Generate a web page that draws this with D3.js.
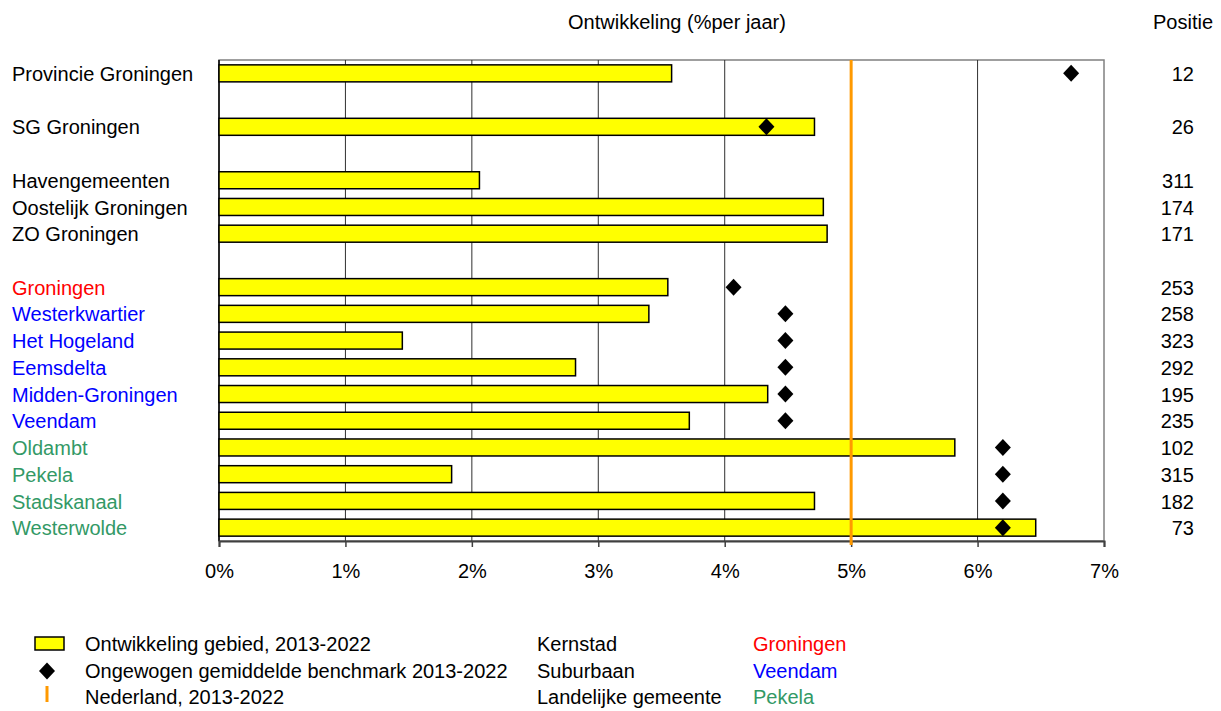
<!DOCTYPE html>
<html><head><meta charset="utf-8">
<script src="https://cdn.jsdelivr.net/npm/d3@7"></script>
<style>body{margin:0;background:#fff}svg{font-family:"Liberation Sans",Arial,sans-serif}</style>
</head><body>
<svg id="c" width="1221" height="711"></svg>
<script>
const categories = ["Provincie Groningen","","SG Groningen","","Havengemeenten","Oostelijk Groningen","ZO Groningen","","Groningen","Westerkwartier","Het Hogeland","Eemsdelta","Midden-Groningen","Veendam","Oldambt","Pekela","Stadskanaal","Westerwolde"];
const labelColors = ["#000","#000","#000","#000","#000","#000","#000","#000","#FF0000","#0000FF","#0000FF","#0000FF","#0000FF","#0000FF","#339966","#339966","#339966","#339966"];
const development = [3.58,null,4.71,null,2.06,4.78,4.81,null,3.55,3.40,1.45,2.82,4.34,3.72,5.82,1.84,4.71,6.46];
const benchmark = [6.74,null,4.33,null,null,null,null,null,4.07,4.48,4.48,4.48,4.48,4.48,6.20,6.20,6.20,6.20];
const positie = ["12","","26","","311","174","171","","253","258","323","292","195","235","102","315","182","73"];
const nederland = 5.0;
const xTicks = [0,1,2,3,4,5,6,7];

const svg = d3.select("#c");
const L=219, R=1104, T=60, B=541;
const x = d3.scaleLinear().domain([0,7]).range([L,R]);
const y = d3.scaleBand().domain(d3.range(categories.length)).range([T,B]);
const fs = 20;

// plot border (gray)
svg.append("rect").attr("x",L).attr("y",T).attr("width",R-L).attr("height",B-T)
  .attr("fill","none").attr("stroke","#808080").attr("stroke-width",1.5);
// gridlines
svg.append("g").selectAll("line").data(xTicks.slice(1,-1)).join("line")
  .attr("x1",d=>x(d)).attr("x2",d=>x(d)).attr("y1",T).attr("y2",B)
  .attr("stroke","#303030").attr("stroke-width",1);
// left axis line
svg.append("line").attr("x1",L).attr("x2",L).attr("y1",T).attr("y2",B).attr("stroke","#000").attr("stroke-width",1.5);
// bottom axis
const xa = svg.append("g").attr("transform",`translate(0,${B})`)
  .call(d3.axisBottom(x).tickValues(xTicks).tickSize(6).tickFormat(d=>d+"%"));
xa.select(".domain").attr("stroke","#404040").attr("stroke-width",2);
xa.selectAll(".tick line").attr("stroke","#404040").attr("stroke-width",1.5);
xa.selectAll("text").attr("font-size",fs).attr("fill","#000").attr("dy","0").attr("y",37)
  .attr("font-family","Liberation Sans, Arial, sans-serif");

// bars
const bh = 17;
svg.append("g").selectAll("rect").data(development.map((v,i)=>({v,i})).filter(d=>d.v!=null)).join("rect")
  .attr("x",x(0)).attr("y",d=>y(d.i)+y.bandwidth()/2-bh/2)
  .attr("width",d=>x(d.v)-x(0)).attr("height",bh)
  .attr("fill","#FFFF00").attr("stroke","#000").attr("stroke-width",1.5);

// orange line
svg.append("line").attr("x1",x(nederland)).attr("x2",x(nederland)).attr("y1",T).attr("y2",B+4)
  .attr("stroke","#FF9900").attr("stroke-width",3);

// diamonds
const dw=8, dh=8.5;
const diamond = `M0,${-dh}L${dw},0L0,${dh}L${-dw},0Z`;
svg.append("g").selectAll("path").data(benchmark.map((v,i)=>({v,i})).filter(d=>d.v!=null)).join("path")
  .attr("d",diamond).attr("transform",d=>`translate(${x(d.v)},${y(d.i)+y.bandwidth()/2})`).attr("fill","#000");

// category labels
svg.append("g").selectAll("text").data(categories.map((c,i)=>({c,i})).filter(d=>d.c)).join("text")
  .attr("x",12).attr("y",d=>y(d.i)+y.bandwidth()/2).attr("dy","0.38em")
  .attr("font-size",fs).attr("fill",d=>labelColors[d.i]).text(d=>d.c);
// positie
svg.append("g").selectAll("text").data(positie.map((c,i)=>({c,i})).filter(d=>d.c)).join("text")
  .attr("x",1194).attr("y",d=>y(d.i)+y.bandwidth()/2).attr("dy","0.38em").attr("text-anchor","end")
  .attr("font-size",fs).attr("fill","#000").text(d=>d.c);

// headers
svg.append("text").attr("x",677).attr("y",29).attr("text-anchor","middle").attr("font-size",fs).text("Ontwikkeling (%per jaar)");
svg.append("text").attr("x",1183).attr("y",29).attr("text-anchor","middle").attr("font-size",fs).text("Positie");

// legend
const lg = svg.append("g");
const ly = [644,671,697];
lg.append("rect").attr("x",35).attr("y",637).attr("width",29).attr("height",13).attr("fill","#FFFF00").attr("stroke","#000").attr("stroke-width",1.5);
lg.append("path").attr("d",diamond).attr("transform",`translate(47,${ly[1]})`).attr("fill","#000");
lg.append("line").attr("x1",47).attr("x2",47).attr("y1",ly[2]-11).attr("y2",ly[2]+5).attr("stroke","#FF9900").attr("stroke-width",3);
const legendText = ["Ontwikkeling gebied, 2013-2022","Ongewogen gemiddelde benchmark 2013-2022","Nederland, 2013-2022"];
const typeText = ["Kernstad","Suburbaan","Landelijke gemeente"];
const exampleText = ["Groningen","Veendam","Pekela"];
const exampleColors = ["#FF0000","#0000FF","#339966"];
legendText.forEach((t,i)=>lg.append("text").attr("x",85).attr("y",ly[i]).attr("dy","0.36em").attr("font-size",fs).text(t));
typeText.forEach((t,i)=>lg.append("text").attr("x",537).attr("y",ly[i]).attr("dy","0.36em").attr("font-size",fs).text(t));
exampleText.forEach((t,i)=>lg.append("text").attr("x",753).attr("y",ly[i]).attr("dy","0.36em").attr("font-size",fs).attr("fill",exampleColors[i]).text(t));
</script>
</body></html>
